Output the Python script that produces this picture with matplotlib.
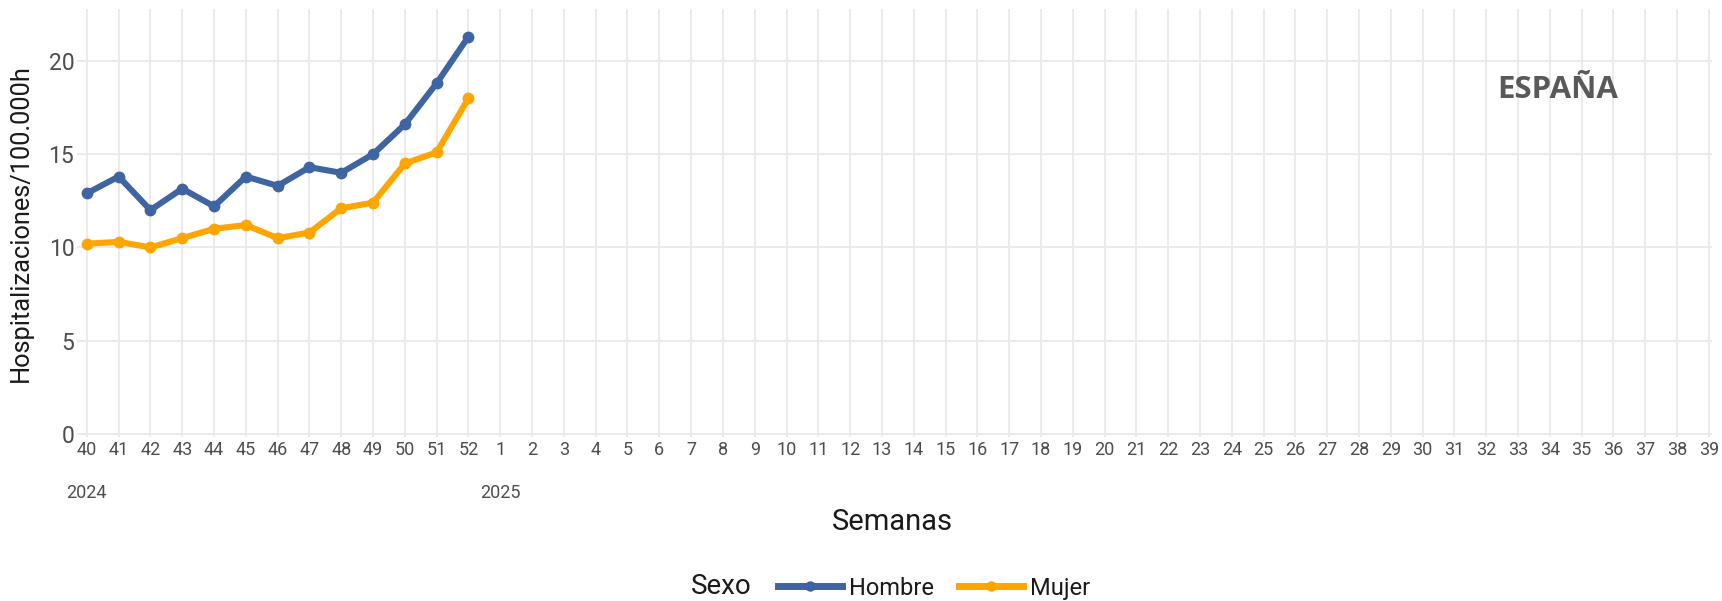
import numpy as np
import matplotlib
matplotlib.use("Agg")
import matplotlib.pyplot as plt
from matplotlib.lines import Line2D

plt.rcParams['font.family'] = ['Roboto', 'DejaVu Sans']

# semanas epidemiologicas: 40-52 de 2024 y 1-39 de 2025
semanas = [str(s) for s in list(range(40, 53)) + list(range(1, 40))]
hombre = [12.9, 13.8, 12.0, 13.15, 12.2, 13.8, 13.3, 14.3, 14.0, 15.0, 16.6, 18.8, 21.3]
mujer = [10.2, 10.3, 10.0, 10.5, 11.0, 11.2, 10.5, 10.8, 12.1, 12.4, 14.5, 15.1, 18.0]
anios = ["2024", "2025"]
anios_pos = [0, 13]

azul = "#3e64a2"
naranja = "#ffa500"
gris_txt = "#4d4d4d"

fig = plt.figure(figsize=(17.22, 6.01), dpi=100)
ax = fig.add_axes([0.0447, 0.2729, 0.9495, 0.7121])

x = np.arange(len(semanas))
ax.plot(x[:len(hombre)], hombre, color=azul, lw=4.4, marker="o", ms=7.5, solid_capstyle="round", zorder=3)
ax.plot(x[:len(mujer)], mujer, color=naranja, lw=4.4, marker="o", ms=7.5, solid_capstyle="round", zorder=3)

ax.set_xlim(-0.31, len(semanas) - 0.9)
ax.set_ylim(-0.16, 22.78)
ax.set_xticks(x)
ax.set_xticklabels(semanas)
ax.set_yticks([0, 5, 10, 15, 20])
ax.tick_params(axis="x", length=0, pad=3, labelsize=13, labelcolor=gris_txt)
ax.tick_params(axis="y", length=0, pad=2, labelsize=16.5, labelcolor=gris_txt)
ax.grid(True, color="#ebebeb", lw=1.4)
ax.set_axisbelow(True)
for s in ax.spines.values():
    s.set_visible(False)

# etiquetas de año debajo de las semanas
for a, p in zip(anios, anios_pos):
    ax.text(p, -0.11, a, transform=ax.get_xaxis_transform(), ha="center", va="top",
            fontsize=13, color=gris_txt)

ax.set_ylabel("Hospitalizaciones/100.000h", fontsize=18.3, color="#1a1a1a", labelpad=11)
fig.text(0.518, 0.131, "Semanas", ha="center", va="center", fontsize=21, color="#1a1a1a")

ax.text(0.9045, 0.85, "ESPAÑA", transform=fig.transFigure, ha="center", va="center",
        fontsize=22.5, fontweight="bold", color="#595959", family="Open Sans")

# leyenda
fig.text(0.419, 0.024, "Sexo", ha="center", va="center", fontsize=20, color="#1a1a1a")
handles = [Line2D([], [], color=azul, lw=5, marker="o", ms=6.5),
           Line2D([], [], color=naranja, lw=5, marker="o", ms=6.5)]
fig.legend(handles, ["Hombre", "Mujer"], loc="center left", bbox_to_anchor=(0.452, 0.0216),
           ncol=2, frameon=False, fontsize=17, handlelength=2.7, columnspacing=1.05,
           handletextpad=0.3, labelcolor="#1a1a1a", borderpad=0, borderaxespad=0)

fig.savefig("out.png", dpi=100)
